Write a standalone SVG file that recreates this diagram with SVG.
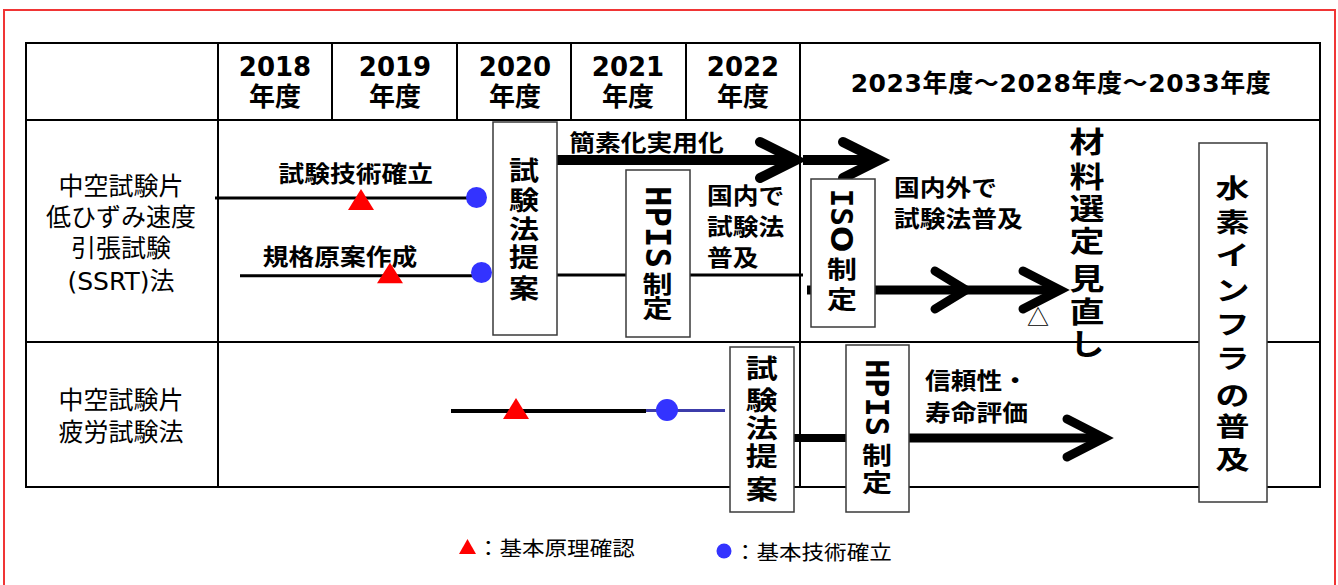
<svg xmlns="http://www.w3.org/2000/svg" width="1338" height="585" viewBox="0 0 1338 585">
<style>
.tl{fill:none;stroke:#000;stroke-width:2}
.bx{fill:#fff;stroke:#3a3a3a;stroke-width:1.5}
.ln{fill:none;stroke:#000;stroke-width:3}
.thk{fill:none;stroke:#000;stroke-width:10}
.chev{fill:none;stroke:#000;stroke-width:10;stroke-linecap:round;stroke-linejoin:miter}
.yr{font-family:"DejaVu Sans","Noto Sans CJK JP",sans-serif;font-weight:700;font-size:26px;text-anchor:middle;dominant-baseline:central}
.hd{font-family:"DejaVu Sans","Noto Sans CJK JP",sans-serif;font-weight:700;font-size:25px;text-anchor:middle;dominant-baseline:central;letter-spacing:0.6px}
.lbl{font-family:"DejaVu Sans","Noto Sans CJK JP",sans-serif;font-size:25px;text-anchor:middle;dominant-baseline:central}
.bl{font-family:"Noto Sans CJK JP",sans-serif;font-weight:700;font-size:23px;dominant-baseline:central}
.m{text-anchor:middle}
.v{font-family:"Noto Sans CJK JP",sans-serif;font-weight:700;text-anchor:middle;dominant-baseline:central}
.lat{font-family:"DejaVu Sans Mono","Liberation Mono",monospace;font-weight:700;text-anchor:middle;dominant-baseline:central}
.ro{font-family:"DejaVu Sans",sans-serif}
.lg{font-family:"Noto Sans CJK JP",sans-serif;font-size:20.5px;dominant-baseline:central}
.red{fill:#ff0000}
.blue{fill:#3333ff}
</style>
<rect x="4" y="10" width="1331" height="600" fill="none" stroke="#f03535" stroke-width="2"/>
<g id="table">
<rect class="tl" x="26" y="43" width="1294" height="444"/>
<path class="tl" d="M26 120H1320M26 342H1320M218 43V487M800 43V487M332 43V120M457 43V120M571 43V120M686 43V120"/>
</g>
<g id="header">
<text class="yr" x="275" y="67">2018</text><text class="yr" x="275" y="97">年度</text>
<text class="yr" x="395" y="67">2019</text><text class="yr" x="395" y="97">年度</text>
<text class="yr" x="515" y="67">2020</text><text class="yr" x="515" y="97">年度</text>
<text class="yr" x="628" y="67">2021</text><text class="yr" x="628" y="97">年度</text>
<text class="yr" x="743" y="67">2022</text><text class="yr" x="743" y="97">年度</text>
<text class="hd" x="1061" y="83">2023年度～2028年度～2033年度</text>
</g>
<g id="row-labels">
<text class="lbl" x="121" y="186">中空試験片</text>
<text class="lbl" x="121" y="217">低ひずみ速度</text>
<text class="lbl" x="121" y="248.5">引張試験</text>
<text class="lbl" x="121" y="281">(SSRT)法</text>
<text class="lbl" x="121" y="400">中空試験片</text>
<text class="lbl" x="121" y="432">疲労試験法</text>
</g>
<g id="connectors">
<path class="ln" d="M215 198H475M240 275.7H480M557 275H626M690 275H803"/>
<path class="thk" d="M557 160H790M803 160H874"/>
<polyline class="chev" points="760,142 796,160 760,178"/>
<polyline class="chev" points="843,142 879,160 843,178"/>
<path class="thk" style="stroke-width:9" d="M807 290H1054"/>
<polyline class="chev" style="stroke-width:9" points="935,271 966,290 935,309"/>
<polyline class="chev" style="stroke-width:9" points="1023,271 1060,290 1023,309"/>
<path class="ln" style="stroke-width:4" d="M451 411H646"/>
<path class="ln" style="stroke:#3c3caa" d="M646 410.5H725"/>
<path class="thk" style="stroke-width:8" d="M794 438H846"/>
<path class="thk" style="stroke-width:9" d="M909 438H1099"/>
<polyline class="chev" style="stroke-width:9" points="1067,419 1104,438 1067,457"/>
</g>
<g id="milestones">
<polygon class="red" points="361,189 374,210 348,210"/>
<circle class="blue" cx="476.5" cy="197.5" r="10.5"/>
<polygon class="red" points="390,262.7 403,283.3 377,283.3"/>
<circle class="blue" cx="481.5" cy="272.5" r="10.5"/>
<polygon class="red" points="516,398 529,419 503,419"/>
<circle class="blue" cx="667" cy="410" r="11"/>
</g>
<g id="labels">
<text class="bl m" transform="matrix(1.12 0 0 1 355.7 172)">試験技術確立</text>
<text class="bl m" transform="matrix(1.12 0 0 1 340 255)">規格原案作成</text>
<text class="bl m" transform="matrix(1.12 0 0 1 646.5 141.5)">簡素化実用化</text>
<text class="bl" transform="matrix(1.12 0 0 1 707 194)">国内で</text>
<text class="bl" transform="matrix(1.12 0 0 1 707 225)">試験法</text>
<text class="bl" transform="matrix(1.12 0 0 1 707 256)">普及</text>
<text class="bl" transform="matrix(1.12 0 0 1 894 186)">国内外で</text>
<text class="bl" transform="matrix(1.12 0 0 1 894 217)">試験法普及</text>
<text class="bl" transform="matrix(1.12 0 0 1 925 379)">信頼性・</text>
<text class="bl" transform="matrix(1.12 0 0 1 925 411)">寿命評価</text>
<text class="lg" x="1038" y="314.5" style="text-anchor:middle;font-size:22px">△</text>
</g>
<g id="node-teian1">
<rect class="bx" x="493" y="122" width="64" height="213"/>
<g class="v" style="font-size:30px">
<text transform="matrix(1 0 0 0.88 524 168)">試</text>
<text transform="matrix(1 0 0 0.88 524 198.5)">験</text>
<text transform="matrix(1 0 0 0.88 524 227)">法</text>
<text transform="matrix(1 0 0 0.88 524 255)">提</text>
<text transform="matrix(1 0 0 0.88 524 286.5)">案</text>
</g>
</g>
<g id="node-hpis1">
<rect class="bx" x="626" y="170" width="64" height="167"/>
<text class="lat" style="font-size:34px" transform="translate(657.5 227) rotate(90)">HPIS</text>
<g class="v" style="font-size:30px">
<text transform="matrix(1 0 0 0.8 657.5 282)">制</text>
<text transform="matrix(1 0 0 0.8 657.5 306.5)">定</text>
</g>
</g>
<g id="node-iso">
<rect class="bx" x="811" y="179" width="64" height="148"/>
<text class="lat" style="font-size:31px" transform="translate(842 220.5) rotate(90)">IS<tspan class="ro">O</tspan></text>
<g class="v" style="font-size:30px">
<text transform="matrix(1 0 0 0.8 842 267.5)">制</text>
<text transform="matrix(1 0 0 0.8 842 297.5)">定</text>
</g>
</g>
<g id="node-teian2">
<rect class="bx" x="730" y="347" width="64" height="165"/>
<g class="v" style="font-size:32px">
<text transform="matrix(1 0 0 0.83 761.7 366.5)">試</text>
<text transform="matrix(1 0 0 0.83 761.7 398)">験</text>
<text transform="matrix(1 0 0 0.83 761.7 426)">法</text>
<text transform="matrix(1 0 0 0.83 761.7 454.5)">提</text>
<text transform="matrix(1 0 0 0.83 761.7 487)">案</text>
</g>
</g>
<g id="node-hpis2">
<rect class="bx" x="846" y="345" width="63" height="167"/>
<text class="lat" style="font-size:32px" transform="translate(877 397.5) rotate(90)">HPIS</text>
<g class="v" style="font-size:30px">
<text transform="matrix(1 0 0 0.8 877 453.5)">制</text>
<text transform="matrix(1 0 0 0.8 877 480.5)">定</text>
</g>
</g>
<g id="node-minaoshi" class="v" style="font-size:35px">
<text transform="matrix(1 0 0 0.83 1087 140)">材</text>
<text transform="matrix(1 0 0 0.83 1087 175)">料</text>
<text transform="matrix(1 0 0 0.83 1087 207)">選</text>
<text transform="matrix(1 0 0 0.83 1087 239.5)">定</text>
<text transform="matrix(1 0 0 0.83 1087 277)">見</text>
<text transform="matrix(1 0 0 0.83 1087 310)">直</text>
<text transform="matrix(1 0 0 0.83 1087 342)">し</text>
</g>
<g id="node-infra">
<rect class="bx" x="1199" y="143" width="68" height="359"/>
<g class="v" style="font-size:34px">
<text transform="matrix(1 0 0 0.78 1232.5 187)">水</text>
<text transform="matrix(1 0 0 0.78 1232.5 221)">素</text>
<text transform="matrix(1 0 0 0.78 1232.5 254)">イ</text>
<text transform="matrix(1 0 0 0.78 1232.5 289)">ン</text>
<text transform="matrix(1 0 0 0.78 1232.5 323)">フ</text>
<text transform="matrix(1 0 0 0.78 1232.5 357)">ラ</text>
<text transform="matrix(1 0 0 0.78 1232.5 394)">の</text>
<text transform="matrix(1 0 0 0.78 1232.5 425)">普</text>
<text transform="matrix(1 0 0 0.78 1232.5 458)">及</text>
</g>
</g>
<g id="legend">
<polygon class="red" points="467.5,539 476,554 459,554"/>
<text class="lg" transform="matrix(1.1 0 0 1 477 547)">：基本原理確認</text>
<circle class="blue" cx="724" cy="551" r="7.5"/>
<text class="lg" transform="matrix(1.1 0 0 1 734 551)">：基本技術確立</text>
</g>
</svg>
